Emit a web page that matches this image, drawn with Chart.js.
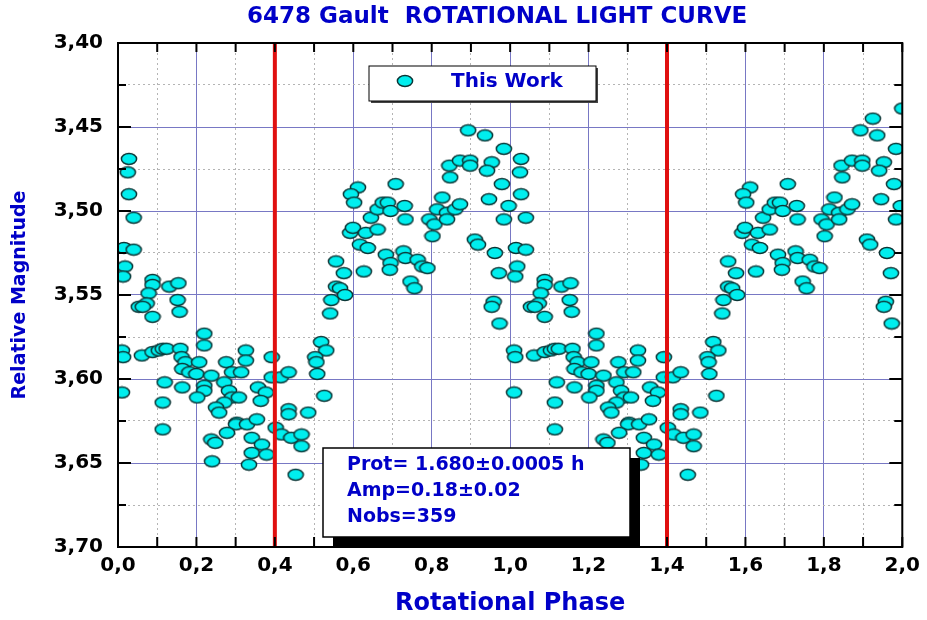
<!DOCTYPE html>
<html>
<head>
<meta charset="utf-8">
<script src="https://cdn.jsdelivr.net/npm/chart.js@4.4.1/dist/chart.umd.min.js"></script>
<style>
html, body { margin: 0; padding: 0; background: #fff; }
#wrap { width: 927px; height: 620px; }
</style>
</head>
<body>
<div id="wrap"><canvas id="myChart" width="927" height="620"></canvas></div>
<script>
// one rotation (phase 0..1), plotted twice as in the original figure
var phase = [0.028,0.025,0.028,0.040,0.015,0.040,0.018,0.013,0.088,0.088,0.131,0.154,0.078,0.073,0.053,0.063,0.088,0.152,0.157,
  0.010,0.013,0.010,0.061,0.088,0.104,0.114,0.124,0.220,0.220,0.159,0.162,0.172,0.164,0.182,0.207,0.200,0.119,0.164,0.114,0.114,
  0.238,0.220,0.220,0.202,0.276,0.271,0.291,0.314,0.326,0.326,0.283,0.291,0.308,0.271,0.250,0.258,0.303,0.301,0.329,0.354,
  0.278,0.238,0.248,0.240,0.341,0.367,0.341,0.379,0.334,0.357,0.377,0.364,0.392,0.392,0.415,0.435,0.435,0.435,0.485,0.402,
  0.417,0.442,0.468,0.468,0.453,0.518,0.531,0.503,0.506,0.508,0.526,0.544,0.541,0.556,0.566,0.579,0.556,0.576,0.592,0.599,
  0.612,0.594,0.602,0.632,0.617,0.637,0.627,0.645,0.662,0.662,0.675,0.688,0.695,0.708,0.731,0.733,0.683,0.695,0.693,0.728,
  0.733,0.764,0.776,0.789,0.746,0.756,0.794,0.807,0.802,0.814,0.827,0.839,0.839,0.860,0.872,0.845,0.847,0.872,0.898,0.898,
  0.893,0.936,0.984,0.953,0.941,0.979,0.946,0.996,0.984,0.910,0.918,0.961,0.971,0.958,0.953,0.973];
var mag = [3.469,3.477,3.490,3.504,3.522,3.523,3.533,3.539,3.541,3.544,3.545,3.543,3.549,3.555,3.557,3.557,3.563,3.553,3.560,
  3.583,3.587,3.608,3.586,3.584,3.583,3.582,3.582,3.573,3.580,3.582,3.587,3.590,3.594,3.596,3.590,3.597,3.602,3.605,3.614,3.630,
  3.598,3.604,3.607,3.611,3.590,3.602,3.596,3.596,3.583,3.589,3.607,3.611,3.611,3.614,3.617,3.620,3.626,3.627,3.627,3.624,
  3.632,3.636,3.638,3.649,3.635,3.639,3.644,3.645,3.651,3.605,3.608,3.613,3.587,3.599,3.599,3.596,3.618,3.621,3.620,3.629,
  3.633,3.635,3.633,3.640,3.657,3.578,3.583,3.587,3.590,3.597,3.610,3.553,3.561,3.545,3.546,3.550,3.530,3.537,3.513,3.510,
  3.486,3.490,3.495,3.513,3.520,3.522,3.536,3.504,3.511,3.499,3.495,3.495,3.500,3.484,3.497,3.505,3.526,3.531,3.535,3.524,
  3.528,3.529,3.533,3.534,3.542,3.546,3.505,3.508,3.515,3.499,3.492,3.501,3.505,3.499,3.496,3.473,3.480,3.470,3.470,3.473,
  3.452,3.455,3.463,3.471,3.476,3.484,3.493,3.497,3.505,3.517,3.520,3.525,3.537,3.554,3.557,3.567];
// points only seen in the second cycle
var extraPhase = [1.925, 2.000];
var extraMag = [3.445, 3.439];

var xLabels = ['0,0','0,2','0,4','0,6','0,8','1,0','1,2','1,4','1,6','1,8','2,0'];
var yLabels = ['3,40','3,45','3,50','3,55','3,60','3,65','3,70'];
var periodLines = [0.4, 1.4];
var infoLines = ['Prot= 1.680\u00b10.0005 h', 'Amp=0.18\u00b10.02', 'Nobs=359'];

var BLUE = '#0000c8';
var FONT = "'DejaVu Sans', sans-serif";
Chart.defaults.font.family = FONT;

function makeMarker() {
    var c = document.createElement('canvas');
    c.width = 18; c.height = 14;
    var g = c.getContext('2d');
    g.beginPath();
    g.ellipse(9, 7, 7.6, 5.6, 0, 0, Math.PI * 2);
    g.fillStyle = '#00eeee';
    g.fill();
    g.lineWidth = 1.5;
    g.strokeStyle = '#0b3535';
    g.stroke();
    return c;
}
var marker = makeMarker();

var pts = [];
for (var i = 0; i < phase.length; i++) pts.push({x: phase[i], y: mag[i]});
for (var i = 0; i < phase.length; i++) pts.push({x: phase[i] + 1, y: mag[i]});
for (var i = 0; i < extraPhase.length; i++) pts.push({x: extraPhase[i], y: extraMag[i]});

var datasets = [{
    label: 'This Work',
    data: pts,
    pointStyle: marker,
    pointRadius: 8,
    order: 2
}];
periodLines.forEach(function(p) {
    datasets.push({
        type: 'line',
        data: [{x: p, y: 3.40}, {x: p, y: 3.70}],
        borderColor: '#e01010',
        borderWidth: 4,
        pointRadius: 0,
        order: 1
    });
});

var MAJOR = '#7878c4';
var MINOR = '#b4b4b4';

// step number of a tick counted from the axis minimum (independent of reverse)
function stepOf(v, min, step) { return Math.round((v - min) / step); }

var decor = {
    id: 'decor',
    beforeDraw: function(chart) {
        var ctx = chart.ctx;
        ctx.save();
        ctx.fillStyle = '#fff';
        ctx.fillRect(0, 0, chart.width, chart.height);
        ctx.restore();
    },
    afterDatasetsDraw: function(chart) {
        var ctx = chart.ctx, ca = chart.chartArea;
        var xs = chart.scales.x, ys = chart.scales.y;
        ctx.save();

        // info box with black drop shadow
        var l = ca.left + 205, t = ca.bottom - 99, r = ca.left + 512, b = ca.bottom - 10;
        ctx.fillStyle = '#000';
        ctx.fillRect(l + 10, t + 10, r - l, b - t);
        ctx.fillStyle = '#fff';
        ctx.fillRect(l, t, r - l, b - t);
        ctx.strokeStyle = '#000';
        ctx.lineWidth = 1.5;
        ctx.strokeRect(l, t, r - l, b - t);
        ctx.fillStyle = BLUE;
        ctx.font = 'bold 19px ' + FONT;
        ctx.textBaseline = 'middle';
        ctx.textAlign = 'left';
        infoLines.forEach(function(s, k) {
            ctx.fillText(s, l + 24, t + 17 + k * 26);
        });

        // legend box
        var ll = ca.left + 251, lt = ca.top + 23, lw = 227, lh = 35;
        ctx.fillStyle = '#444';
        ctx.fillRect(ll + 2, lt + 2, lw, lh);
        ctx.fillStyle = '#fff';
        ctx.fillRect(ll, lt, lw, lh);
        ctx.strokeStyle = '#000';
        ctx.lineWidth = 1;
        ctx.strokeRect(ll, lt, lw, lh);
        ctx.drawImage(marker, ll + 36 - 9, lt + 15 - 7);
        ctx.fillStyle = BLUE;
        ctx.font = 'bold 20px ' + FONT;
        ctx.fillText(chart.data.datasets[0].label, ll + 82, lt + 16);

        // frame
        ctx.strokeStyle = '#000';
        ctx.lineWidth = 2;
        ctx.strokeRect(ca.left, ca.top, ca.right - ca.left, ca.bottom - ca.top);

        // inward tick marks
        ctx.beginPath();
        xs.ticks.forEach(function(tk) {
            var px = xs.getPixelForValue(tk.value);
            ctx.moveTo(px, ca.top); ctx.lineTo(px, ca.top + 9);
            ctx.moveTo(px, ca.bottom); ctx.lineTo(px, ca.bottom - 10);
        });
        ys.ticks.forEach(function(tk) {
            var py = ys.getPixelForValue(tk.value);
            var len = stepOf(tk.value, 3.40, 0.025) % 2 === 0 ? 13 : 8;
            ctx.moveTo(ca.left, py); ctx.lineTo(ca.left + len, py);
            ctx.moveTo(ca.right, py); ctx.lineTo(ca.right - len, py);
        });
        ctx.stroke();
        ctx.restore();
    },
    afterDraw: function(chart) {
        var ctx = chart.ctx, ca = chart.chartArea;
        ctx.save();
        ctx.fillStyle = BLUE;
        ctx.font = 'bold 23px ' + FONT;
        ctx.textAlign = 'center';
        ctx.textBaseline = 'middle';
        ctx.fillText('6478 Gault  ROTATIONAL LIGHT CURVE', (ca.left + ca.right) / 2 - 13, 17);
        ctx.restore();
    }
};

function gridColor(c) { return c.index % 2 === 0 ? MAJOR : MINOR; }
function gridDash(c) { return c.index % 2 === 0 ? [] : [2, 3]; }

var myChart = new Chart(document.getElementById('myChart'), {
    type: 'scatter',
    data: { datasets: datasets },
    options: {
        responsive: false,
        animation: false,
        layout: { padding: { top: 43, right: 18, bottom: 0, left: 0 } },
        plugins: {
            legend: { display: false },
            tooltip: { enabled: false },
            title: { display: false }
        },
        scales: {
            x: {
                type: 'linear',
                min: 0, max: 2,
                ticks: {
                    stepSize: 0.1,
                    autoSkip: false,
                    maxRotation: 0,
                    padding: 7,
                    color: '#000',
                    font: { size: 20, weight: 'bold' },
                    callback: function(v) {
                        var k = stepOf(v, 0, 0.1);
                        return k % 2 === 0 ? xLabels[k / 2] : '';
                    }
                },
                grid: { drawTicks: false, color: gridColor, lineWidth: 1 },
                border: { display: false, dash: gridDash },
                title: {
                    display: true,
                    text: 'Rotational Phase',
                    color: BLUE,
                    font: { size: 24, weight: 'bold' },
                    padding: { top: 0, bottom: 2 }
                },
                afterFit: function(s) { s.height = 73; }
            },
            y: {
                type: 'linear',
                reverse: true,
                min: 3.40, max: 3.70,
                ticks: {
                    stepSize: 0.025,
                    autoSkip: false,
                    padding: 15,
                    color: '#000',
                    font: { size: 20, weight: 'bold' },
                    callback: function(v) {
                        var k = stepOf(v, 3.40, 0.025);
                        return k % 2 === 0 ? yLabels[k / 2] : '';
                    }
                },
                grid: { drawTicks: false, color: gridColor, lineWidth: 1 },
                border: { display: false, dash: gridDash },
                title: {
                    display: true,
                    text: 'Relative Magnitude',
                    color: BLUE,
                    font: { size: 19, weight: 'bold' },
                    padding: { top: 9, bottom: 0 }
                },
                afterFit: function(s) { s.width = 118; }
            }
        }
    },
    plugins: [decor]
});
</script>
</body>
</html>
